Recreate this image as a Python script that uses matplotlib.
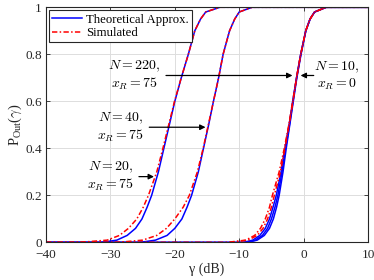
import matplotlib
matplotlib.use("Agg")
import matplotlib.pyplot as plt

P_LEVELS = [0.0, 0.0, 0.01, 0.03, 0.06, 0.1, 0.15, 0.2, 0.3, 0.4, 0.5,
            0.6, 0.7, 0.8, 0.9, 0.95, 0.98, 1.0, 1.0]

# gamma (dB) at each level
N20_THEORY = [-40, -31.5, -29.0, -27.4, -26.1, -25.1, -24.3, -23.6, -22.55, -21.7,
              -20.85, -20.0, -19.0, -17.9, -16.9, -16.0, -15.2, -13.0, 10]
N20_SIM = [-40, -35.0, -30.5, -28.6, -27.2, -25.9, -24.9, -24.1, -22.8, -21.85,
           -20.95, -20.05, -19.0, -17.9, -16.9, -16.0, -15.2, -13.0, 10]
N40_THEORY = [-40, -25.5, -23.0, -21.2, -20.0, -18.9, -18.1, -17.4, -16.35, -15.55,
              -14.75, -14.0, -13.2, -12.5, -11.5, -10.7, -10.0, -8.0, 10]
N40_SIM = [-40, -29.0, -25.0, -22.8, -21.3, -20.0, -18.7, -17.75, -16.5, -15.6,
           -14.8, -14.0, -13.2, -12.5, -11.5, -10.7, -10.0, -8.0, 10]
RIGHT_THEORY = [
    [-40, -9.0, -7.5, -6.4, -5.6, -5.0, -4.45, -4.0, -3.35, -2.8,
     -2.2, -1.65, -1.1, -0.45, 0.33, 1.0, 1.7, 3.5, 10],
    [-40, -9.4, -7.9, -6.8, -5.95, -5.3, -4.75, -4.25, -3.5, -2.9,
     -2.25, -1.7, -1.1, -0.45, 0.33, 1.0, 1.7, 3.5, 10],
    [-40, -8.7, -7.2, -6.1, -5.3, -4.7, -4.2, -3.8, -3.2, -2.7,
     -2.15, -1.6, -1.05, -0.4, 0.35, 1.0, 1.7, 3.5, 10],
]
RIGHT_SIM = [
    [-40, -12.0, -9.0, -7.6, -6.7, -5.95, -5.3, -4.85, -3.8, -3.0,
     -2.3, -1.7, -1.1, -0.45, 0.33, 1.0, 1.7, 3.5, 10],
    [-40, -11.5, -8.6, -7.2, -6.3, -5.6, -5.0, -4.55, -3.6, -2.9,
     -2.25, -1.65, -1.1, -0.45, 0.33, 1.0, 1.7, 3.5, 10],
]

XTICKS = [-40, -30, -20, -10, 0, 10]
YTICKS = [0, 0.2, 0.4, 0.6, 0.8, 1]
YTICKLABELS = ["0", "0.2", "0.4", "0.6", "0.8", "1"]

plt.rcParams["font.family"] = ["Liberation Serif", "DejaVu Serif"]
plt.rcParams["mathtext.fontset"] = "cm"

fig = plt.figure(figsize=(3.74, 2.80), dpi=100)
ax = fig.add_axes([0.123, 0.134, 0.861, 0.840])

blue = dict(color="#0000ff", lw=1.1)
red = dict(color="#ff0000", lw=1.1, ls=(0, (3.5, 1.5, 1, 1.5)))

ax.plot(N20_THEORY, P_LEVELS, **blue, label="Theoretical Approx.")
ax.plot(N40_THEORY, P_LEVELS, **blue)
for xs in RIGHT_THEORY:
    ax.plot(xs, P_LEVELS, **blue)
ax.plot(N20_SIM, P_LEVELS, **red, label="Simulated")
ax.plot(N40_SIM, P_LEVELS, **red)
for xs in RIGHT_SIM:
    ax.plot(xs, P_LEVELS, **red)

ax.set_xlim(-40, 10)
ax.set_ylim(0, 1)
ax.set_xticks(XTICKS)
ax.set_yticks(YTICKS)
ax.set_yticklabels(YTICKLABELS)
ax.tick_params(direction="in", top=True, right=True, labelsize=9.5, length=3,
               width=0.6, colors="#262626", labelcolor="#262626")
ax.tick_params(axis="x", pad=5)
ax.tick_params(axis="y", pad=3)
ax.grid(True, color="#dddddd", lw=0.7)
ax.set_axisbelow(True)
for s in ax.spines.values():
    s.set_linewidth(0.8)
    s.set_color("#262626")

ax.set_xlabel("γ (dB)", fontsize=10, labelpad=1, color="#262626")
ax.set_ylabel(r"$\mathregular{P_{Out}(}\gamma\mathregular{)}$", fontsize=10.5,
              labelpad=1, color="#262626")

leg = ax.legend(loc="upper left", fontsize=9.2, frameon=True, fancybox=False,
                edgecolor="#262626", framealpha=1, handlelength=2.3,
                borderpad=0.25, labelspacing=0.12, handletextpad=0.35,
                borderaxespad=0.25)
leg.get_frame().set_linewidth(0.8)

arrow = dict(arrowstyle="-|>", color="black", lw=0.9, mutation_scale=8)
fs = 10
ax.annotate("", xy=(-1.3, 0.71), xytext=(-21.8, 0.71), arrowprops=arrow)
ax.text(-22.2, 0.71, "$N=220,$\n$x_R=75$", fontsize=fs, ha="right", va="center",
        multialignment="center", linespacing=1.15)
ax.annotate("", xy=(-0.9, 0.71), xytext=(2.0, 0.71), arrowprops=arrow)
ax.text(1.6, 0.71, "$N=10,$\n$x_R=0$", fontsize=fs, ha="left", va="center",
        multialignment="center", linespacing=1.15)
ax.annotate("", xy=(-14.8, 0.49), xytext=(-24.4, 0.49), arrowprops=arrow)
ax.text(-24.8, 0.49, "$N=40,$\n$x_R=75$", fontsize=fs, ha="right", va="center",
        multialignment="center", linespacing=1.15)
ax.annotate("", xy=(-22.8, 0.28), xytext=(-26.0, 0.28), arrowprops=arrow)
ax.text(-26.3, 0.28, "$N=20,$\n$x_R=75$", fontsize=fs, ha="right", va="center",
        multialignment="center", linespacing=1.15)

fig.savefig("out.png", dpi=100)
